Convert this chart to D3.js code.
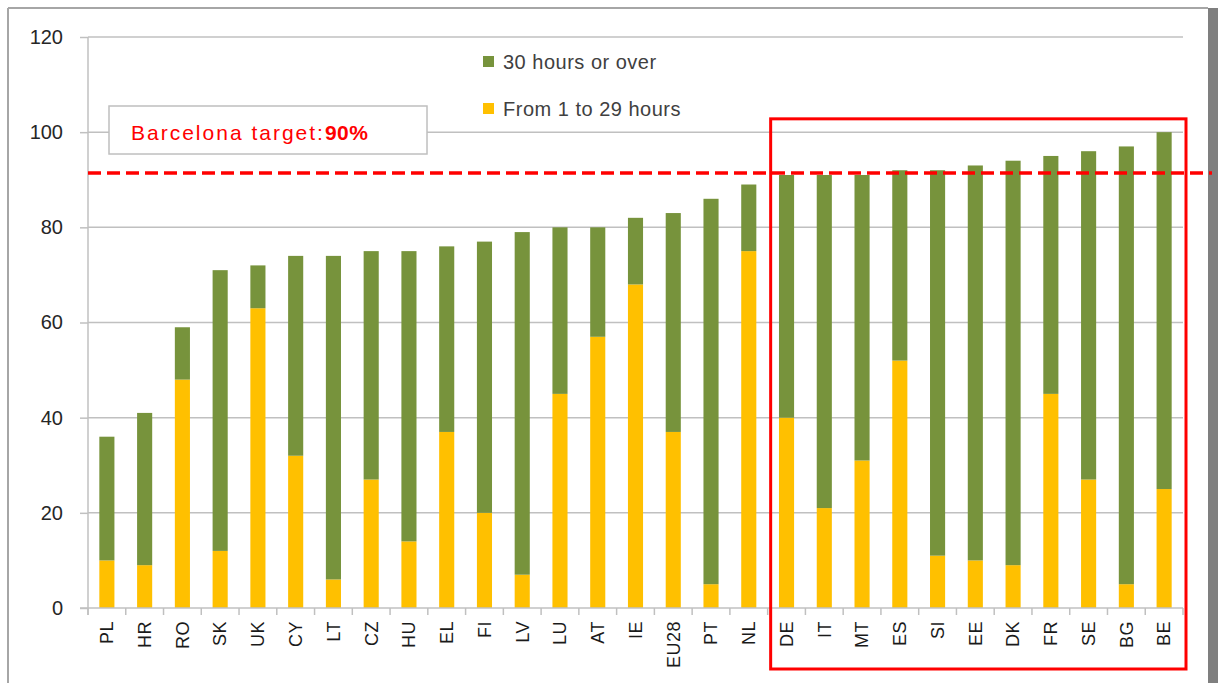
<!DOCTYPE html>
<html>
<head>
<meta charset="utf-8">
<script src="https://cdn.jsdelivr.net/npm/d3@7"></script>
<style>
  body { margin: 0; background: #fff; }
  text { font-family: "Liberation Sans", Arial, sans-serif; }
</style>
</head>
<body>
<div id="chart"></div>
<script>
const width = 1218
const height = 683

// childcare use by weekly hours, share of children (%)
const countries = ['PL', 'HR', 'RO', 'SK', 'UK', 'CY', 'LT', 'CZ', 'HU', 'EL', 'FI', 'LV', 'LU', 'AT', 'IE', 'EU28', 'PT', 'NL',
  'DE', 'IT', 'MT', 'ES', 'SI', 'EE', 'DK', 'FR', 'SE', 'BG', 'BE']
const shortHours = [10, 9, 48, 12, 63, 32, 6, 27, 14, 37, 20, 7, 45, 57, 68, 37, 5, 75,
  40, 21, 31, 52, 11, 10, 9, 45, 27, 5, 25]
const longHours = [26, 32, 11, 59, 9, 42, 68, 48, 61, 39, 57, 72, 35, 23, 14, 46, 81, 14,
  51, 70, 60, 40, 81, 83, 85, 50, 69, 92, 75]
const yTicks = [0, 20, 40, 60, 80, 100, 120]
const targetLine = 91.4
const highlighted = ['DE', 'IT', 'MT', 'ES', 'SI', 'EE', 'DK', 'FR', 'SE', 'BG', 'BE']

const series = [
  { key: 'short', label: 'From 1 to 29 hours', color: '#FFC000' },
  { key: 'long', label: '30 hours or over', color: '#77933C' }
]

const rows = countries.map((c, i) => ({ country: c, short: shortHours[i], long: longHours[i] }))

const svg = d3.select('#chart').append('svg')
  .attr('width', width)
  .attr('height', height)

// outer frame
svg.append('rect').attr('x', 1208).attr('y', 8).attr('width', 10).attr('height', height).attr('fill', '#7f7f7f')
svg.append('line').attr('x1', 8).attr('x2', 1208).attr('y1', 8).attr('y2', 8).attr('stroke', '#a6a6a6').attr('stroke-width', 2)
svg.append('line').attr('x1', 8).attr('x2', 8).attr('y1', 8).attr('y2', height).attr('stroke', '#a6a6a6').attr('stroke-width', 2)

const x = d3.scaleBand()
  .domain(countries)
  .range([88, 1183])
  .paddingInner(0.6)
  .paddingOuter(0.3)

const y = d3.scaleLinear()
  .domain([0, 120])
  .range([608, 37])

// grid
svg.append('g')
  .selectAll('line')
  .data(yTicks.filter(d => d > 0))
  .enter().append('line')
  .attr('x1', 88)
  .attr('x2', 1183)
  .attr('y1', d => y(d))
  .attr('y2', d => y(d))
  .attr('stroke', '#c0c0c0')
  .attr('stroke-width', 1.5)

// y axis
const yAxis = svg.append('g')
  .attr('transform', 'translate(88,0)')
  .call(d3.axisLeft(y).tickValues(yTicks).tickSize(8).tickPadding(17))
yAxis.select('.domain').attr('stroke', '#c0c0c0').attr('stroke-width', 1.5).attr('d', 'M0,37V615')
yAxis.selectAll('.tick line').attr('stroke', '#c0c0c0').attr('stroke-width', 1.5)
yAxis.selectAll('.tick text')
  .attr('fill', '#262626')
  .style('font-size', '20px')

// stacked bars
const stack = d3.stack().keys(series.map(s => s.key))
const layers = stack(rows)

svg.append('g')
  .selectAll('g')
  .data(layers)
  .enter().append('g')
  .attr('fill', (d, i) => series[i].color)
  .selectAll('rect')
  .data(d => d)
  .enter().append('rect')
  .attr('x', d => x(d.data.country))
  .attr('width', x.bandwidth())
  .attr('y', d => y(d[1]))
  .attr('height', d => y(d[0]) - y(d[1]))

// x axis line and boundary ticks
const step = x.step()
const bounds = d3.range(countries.length + 1).map(i => 88 + i * step)
svg.append('line')
  .attr('x1', 80).attr('x2', 1183)
  .attr('y1', y(0)).attr('y2', y(0))
  .attr('stroke', '#c0c0c0').attr('stroke-width', 1.5)
svg.append('g')
  .selectAll('line')
  .data(bounds)
  .enter().append('line')
  .attr('x1', d => d).attr('x2', d => d)
  .attr('y1', y(0)).attr('y2', y(0) + 7)
  .attr('stroke', '#c0c0c0').attr('stroke-width', 1.5)

svg.append('g')
  .selectAll('text')
  .data(countries)
  .enter().append('text')
  .attr('transform', d => 'translate(' + (x(d) + x.bandwidth() / 2) + ',621) rotate(-90)')
  .attr('dy', '0.35em')
  .attr('text-anchor', 'end')
  .attr('fill', '#1a1a1a')
  .style('font-size', '18px')
  .style('letter-spacing', '0.5px')
  .text(d => d)

// target line
svg.append('line')
  .attr('x1', 88).attr('x2', 1212)
  .attr('y1', y(targetLine)).attr('y2', y(targetLine))
  .attr('stroke', '#ff0000')
  .attr('stroke-width', 3.5)
  .attr('stroke-dasharray', '13,6')

// highlight box round countries at or above target
const hx0 = x(highlighted[0]) - step * 0.3 + 3
const hx1 = x(highlighted[highlighted.length - 1]) + x.bandwidth() + step * 0.3 + 3
svg.append('rect')
  .attr('x', hx0)
  .attr('y', y(102.8))
  .attr('width', hx1 - hx0)
  .attr('height', 669 - y(102.8))
  .attr('fill', 'none')
  .attr('stroke', '#ff0000')
  .attr('stroke-width', 3)

// target label box
svg.append('rect')
  .attr('x', 109).attr('y', 106)
  .attr('width', 318).attr('height', 48)
  .attr('fill', '#fff')
  .attr('stroke', '#bfbfbf')
  .attr('stroke-width', 1.5)
const label = svg.append('text')
  .attr('x', 131).attr('y', 140)
  .attr('fill', '#ff0000')
  .style('font-size', '21px')
  .style('letter-spacing', '2px')
label.append('tspan').text('Barcelona target:')
label.append('tspan').attr('font-weight', 'bold').style('letter-spacing', '0.5px').text('90%')

// legend
const legend = svg.append('g')
  .selectAll('g')
  .data(series.slice().reverse())
  .enter().append('g')
  .attr('transform', (d, i) => 'translate(483,' + (56 + i * 47) + ')')
legend.append('rect')
  .attr('width', 11).attr('height', 11)
  .attr('fill', d => d.color)
legend.append('text')
  .attr('x', 20).attr('y', 5.5)
  .attr('dy', '0.35em')
  .attr('fill', '#404040')
  .style('font-size', '20px')
  .style('letter-spacing', '0.5px')
  .text(d => d.label)
</script>
</body>
</html>
